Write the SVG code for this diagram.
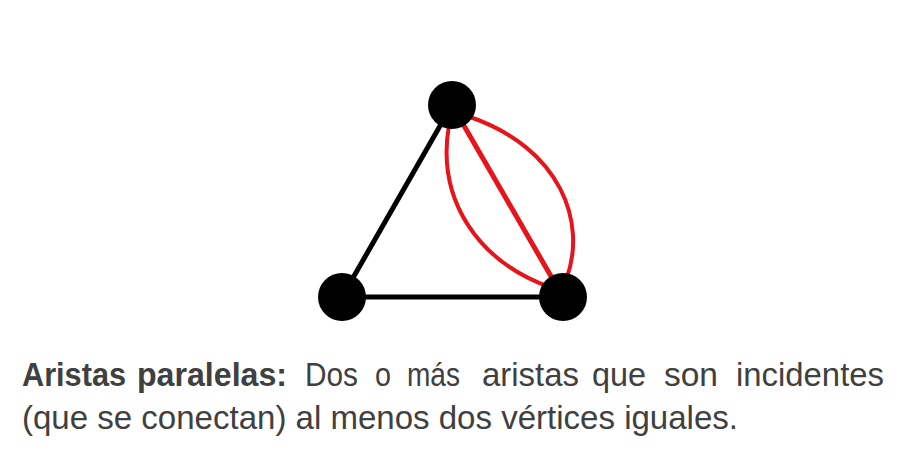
<svg xmlns="http://www.w3.org/2000/svg" width="916" height="473" viewBox="0 0 916 473">
<style>
.blk{stroke:#000;stroke-width:5;fill:none;stroke-linecap:round}
.red{stroke:#e8141b;stroke-width:4;fill:none;stroke-linecap:round}
.node{fill:#000}
.t{font-family:"Liberation Sans",Arial,sans-serif;font-size:33px;fill:#404040}
.b{font-weight:bold}
</style>
<rect width="916" height="473" fill="#fff"/>
<g id="connectors">
<line class="blk" x1="452" y1="105" x2="342" y2="297"/>
<line class="blk" x1="342" y1="297" x2="563" y2="297"/>
<line class="red" style="stroke-width:5" x1="452" y1="105" x2="563" y2="297"/>
<path class="red" d="M449,125 C436,200 478,262 552,288"/>
<path class="red" d="M470,117 C560,148 588,222 566,280"/>
</g>
<g id="node-top"><circle class="node" cx="452" cy="105" r="24"/></g>
<g id="node-left"><circle class="node" cx="342" cy="297" r="24"/></g>
<g id="node-right"><circle class="node" cx="563" cy="297" r="24"/></g>
<g id="caption">
<text class="t b" x="22" y="386" textLength="104" lengthAdjust="spacingAndGlyphs">Aristas</text>
<text class="t b" x="137" y="386" textLength="150" lengthAdjust="spacingAndGlyphs">paralelas:</text>
<text class="t" x="305" y="386" textLength="53" lengthAdjust="spacingAndGlyphs">Dos</text>
<text class="t" x="375" y="386" textLength="16" lengthAdjust="spacingAndGlyphs">o</text>
<text class="t" x="407" y="386" textLength="53" lengthAdjust="spacingAndGlyphs">más</text>
<text class="t" x="482" y="386" textLength="97" lengthAdjust="spacingAndGlyphs">aristas</text>
<text class="t" x="592" y="386" textLength="54" lengthAdjust="spacingAndGlyphs">que</text>
<text class="t" x="664" y="386" textLength="54" lengthAdjust="spacingAndGlyphs">son</text>
<text class="t" x="736" y="386" textLength="148" lengthAdjust="spacingAndGlyphs">incidentes</text>
<text class="t" x="22" y="429" textLength="716" lengthAdjust="spacingAndGlyphs">(que se conectan) al menos dos vértices iguales.</text>
</g>
</svg>
